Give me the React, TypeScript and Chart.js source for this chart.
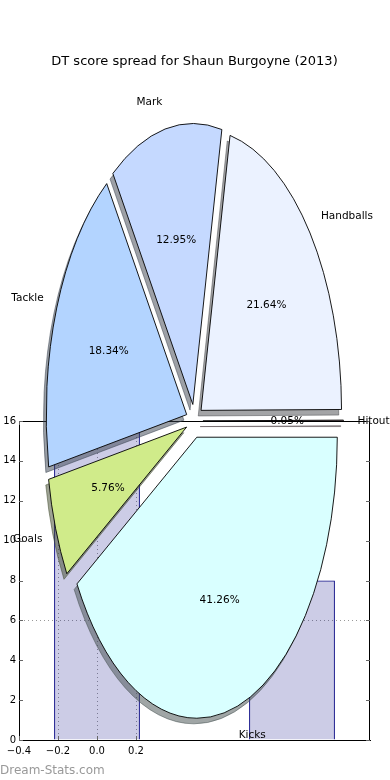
import React, { useEffect, useRef } from 'react';
import { Chart, registerables } from 'chart.js';

Chart.register(...registerables);

const FONT = "'DejaVu Sans', 'Noto Sans', sans-serif";

// ---------- data ----------
const TITLE = 'DT score spread for Shaun Burgoyne (2013)';
const WATERMARK = 'Dream-Stats.com';

const sliceLabels = ['Kicks', 'Goals', 'Tackle', 'Mark', 'Handballs', 'Hitout'];
const slicePercents = [41.26, 5.76, 18.34, 12.95, 21.64, 0.05];

const barPositions = [0, 1];
const barHeights = [16, 8];

const xTickValues = [-0.4, -0.2, 0, 0.2];
const yTickValues = [0, 2, 4, 6, 8, 10, 12, 14, 16];
const yGridValues = [6];

// ---------- styles ----------
const sliceColors = ['#d9ffff', '#d0eb8a', '#b3d4ff', '#c5d9ff', '#ebf2ff', '#ffd9e6'];
const EXPLODE = 0.06; // fraction of radius
const ASPECT = 2.0; // vertical stretch of the pie
const PIE_RADIUS = 140.5;
const SHADOW_DX = -2.8;
const SHADOW_DY = 5.6;
const BAR_WIDTH_UNITS = 0.44;
const X_TICK_STEP = 0.2;
const GRID_COLOR = 'rgba(0,0,0,0.4)';
const TEXT_DY = 1;

function shade(hex: string): string {
  const n = parseInt(hex.slice(1), 16);
  const r = (n >> 16) & 255, g = (n >> 8) & 255, b = n & 255;
  return `rgba(${Math.round(r * 0.3)},${Math.round(g * 0.3)},${Math.round(b * 0.3)},0.5)`;
}

function fmtX(v: number): string {
  const s = Math.abs(v).toFixed(1);
  return v < -1e-9 ? '\u2212' + s : s;
}

const framePlugin = {
  id: 'frame',
  afterDraw(chart: any) {
    const { ctx, chartArea: a, scales } = chart;
    const x = scales.x, y = scales.y;
    ctx.save();
    ctx.strokeStyle = '#000';
    ctx.lineWidth = 1;
    ctx.beginPath();
    ctx.moveTo(a.left, a.top + 0.5);
    ctx.lineTo(a.right, a.top + 0.5);
    ctx.moveTo(a.right - 0.5, a.top);
    ctx.lineTo(a.right - 0.5, a.bottom);
    ctx.stroke();
    ctx.strokeStyle = '#666';
    ctx.beginPath();
    yTickValues.forEach((v) => {
      const py = Math.round(y.getPixelForValue(v)) + 0.5;
      ctx.moveTo(a.left, py);
      ctx.lineTo(a.left + 4, py);
      ctx.moveTo(a.right - 4, py);
      ctx.lineTo(a.right, py);
    });
    xTickValues.forEach((v) => {
      const px = Math.round(x.getPixelForValue(v)) + 0.5;
      ctx.moveTo(px, a.bottom);
      ctx.lineTo(px, a.bottom - 4);
      ctx.moveTo(px, a.top);
      ctx.lineTo(px, a.top + 4);
    });
    ctx.stroke();
    ctx.fillStyle = '#999';
    ctx.font = `12px ${FONT}`;
    ctx.textBaseline = 'middle';
    ctx.textAlign = 'left';
    ctx.fillText(WATERMARK, 0, 771);
    ctx.restore();
  },
};

const piePlugin = {
  id: 'ellipsePie',
  beforeDatasetsDraw(chart: any) {
    const ctx = chart.ctx;
    const arcs = chart.getDatasetMeta(0).data;
    const values = chart.data.datasets[0].data as number[];
    const total = values.reduce((s, v) => s + v, 0);
    const geo = arcs.map((arc: any) => {
      const { x, y, startAngle, endAngle, outerRadius } = arc;
      const mid = (startAngle + endAngle) / 2;
      const d = EXPLODE * outerRadius;
      return { x, y, startAngle, endAngle, r: outerRadius, mid, d };
    });
    const pathFor = (g: any, dx: number, dy: number) => {
      ctx.save();
      ctx.translate(dx, dy);
      ctx.translate(g.x, g.y);
      ctx.scale(1, ASPECT);
      ctx.translate(Math.cos(g.mid) * g.d, Math.sin(g.mid) * g.d);
      ctx.beginPath();
      ctx.moveTo(0, 0);
      ctx.arc(0, 0, g.r, g.startAngle, g.endAngle);
      ctx.closePath();
      ctx.restore();
    };
    // shadows
    geo.forEach((g: any, i: number) => {
      pathFor(g, SHADOW_DX, SHADOW_DY);
      const c = shade(sliceColors[i]);
      ctx.fillStyle = c;
      ctx.fill();
      ctx.strokeStyle = c;
      ctx.lineWidth = 1;
      ctx.stroke();
    });
    // slices
    arcs.forEach((arc: any, i: number) => {
      const g = geo[i];
      ctx.save();
      ctx.translate(g.x, g.y);
      ctx.scale(1, ASPECT);
      ctx.translate(Math.cos(g.mid) * g.d - g.x, Math.sin(g.mid) * g.d - g.y);
      arc.draw(ctx);
      ctx.restore();
      pathFor(g, 0, 0);
      ctx.strokeStyle = '#000';
      ctx.lineWidth = 0.9;
      ctx.stroke();
    });
    // labels
    ctx.save();
    ctx.fillStyle = '#000';
    ctx.font = `10.5px ${FONT}`;
    ctx.textBaseline = 'middle';
    geo.forEach((g: any, i: number) => {
      const c = Math.cos(g.mid), s = Math.sin(g.mid);
      const lr = g.d + 1.1 * g.r;
      const lx = g.x + c * lr;
      const ly = g.y + s * lr * ASPECT + TEXT_DY;
      ctx.textAlign = c > 0 ? 'left' : 'right';
      ctx.fillText(chart.data.labels[i], lx, ly);
      const pr = g.d + 0.6 * g.r;
      ctx.textAlign = 'center';
      const pct = ((values[i] / total) * 100).toFixed(2) + '%';
      ctx.fillText(pct, g.x + c * pr, g.y + s * pr * ASPECT + TEXT_DY);
    });
    ctx.restore();
    return false;
  },
};

export default function App() {
  const barRef = useRef<HTMLCanvasElement>(null);
  const pieRef = useRef<HTMLCanvasElement>(null);

  useEffect(() => {
    const tickFont = { family: FONT, size: 10 };
    const bar = new Chart(barRef.current as HTMLCanvasElement, {
      type: 'bar',
      data: {
        datasets: [
          {
            data: barPositions.map((x, i) => ({ x, y: barHeights[i] })),
            backgroundColor: 'rgba(0,0,128,0.2)',
            borderColor: '#000080',
            borderWidth: 1,
            barPercentage: BAR_WIDTH_UNITS / X_TICK_STEP,
            categoryPercentage: 1,
          },
        ],
      },
      options: {
        responsive: false,
        animation: false,
        events: [],
        layout: { padding: { top: 421, right: 20, left: 0, bottom: 0 } },
        plugins: { legend: { display: false }, tooltip: { enabled: false }, title: { display: false } },
        scales: {
          x: {
            type: 'linear',
            min: -0.4,
            max: 1.4,
            offset: false,
            afterBuildTicks: (s: any) => {
              s.ticks = xTickValues.map((v) => ({ value: v }));
            },
            afterFit: (s: any) => {
              s.height = 40;
            },
            ticks: {
              font: tickFont,
              color: '#000',
              padding: 5,
              maxRotation: 0,
              autoSkip: false,
              callback: (v: any) => fmtX(Number(v)),
            },
            grid: { drawTicks: false, offset: false, color: GRID_COLOR, lineWidth: 1 },
            border: { display: true, color: '#000', width: 1, dash: [1, 3] },
          },
          y: {
            type: 'linear',
            min: 0,
            max: 16,
            afterBuildTicks: (s: any) => {
              s.ticks = yTickValues.map((v) => ({ value: v }));
            },
            afterFit: (s: any) => {
              s.width = 19;
            },
            ticks: { font: tickFont, color: '#000', padding: 3, autoSkip: false },
            grid: {
              drawTicks: false,
              lineWidth: 1,
              color: (c: any) =>
                c.tick && yGridValues.includes(c.tick.value) ? GRID_COLOR : 'rgba(0,0,0,0)',
            },
            border: { display: true, color: '#000', width: 1, dash: [1, 3] },
          },
        },
      } as any,
      plugins: [framePlugin],
    });

    const pie = new Chart(pieRef.current as HTMLCanvasElement, {
      type: 'pie',
      data: {
        labels: sliceLabels,
        datasets: [
          {
            data: slicePercents,
            backgroundColor: sliceColors,
            borderWidth: 0,
            offset: 0,
            rotation: 90,
            circumference: 360,
            radius: PIE_RADIUS,
          } as any,
        ],
      },
      options: {
        responsive: false,
        animation: false,
        events: [],
        rotation: 90,
        radius: PIE_RADIUS,
        layout: { padding: { left: 0, right: 1, top: 0, bottom: 18 } },
        plugins: {
          legend: { display: false },
          tooltip: { enabled: false },
          title: {
            display: true,
            text: TITLE,
            color: '#000',
            font: { family: FONT, size: 13, weight: 'normal' },
            padding: { top: 54, bottom: 10.4 },
          },
        },
      } as any,
      plugins: [piePlugin],
    });

    return () => {
      bar.destroy();
      pie.destroy();
    };
  }, []);

  return (
    <div style={{ position: 'fixed', left: 0, top: 0, width: 390, height: 780, background: '#fff' }}>
      <canvas ref={barRef} width={390} height={780} style={{ position: 'absolute', left: 0, top: 0 }} />
      <canvas ref={pieRef} width={390} height={780} style={{ position: 'absolute', left: 0, top: 0 }} />
    </div>
  );
}
